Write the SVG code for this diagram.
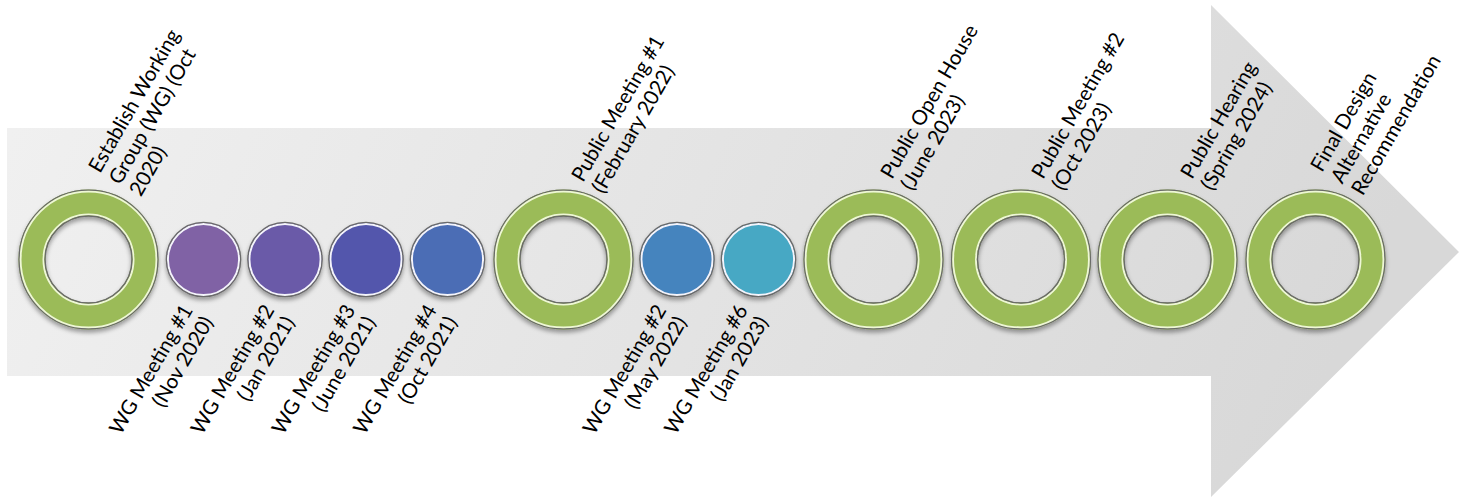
<svg xmlns="http://www.w3.org/2000/svg" width="1463" height="498" viewBox="0 0 1463 498">
<style>
.lbl{font-family:Lato,"Liberation Sans",sans-serif;font-size:20.5px;fill:#000}
.end{text-anchor:end}
.band{fill:none;stroke:#9BBB59;stroke-width:27}
.edge{fill:none;stroke:#6a6a6a;stroke-width:1.4}
.hi{fill:none;stroke:#eef7d6;stroke-width:1.8}
.dot-edge{fill:none;stroke:#6a6a6a;stroke-width:1.3}
.dot-hi{fill:none;stroke:#f4f4fb;stroke-width:2}
</style>
<defs>
<linearGradient id="bg" x1="0" y1="0" x2="1" y2="0.15">
<stop offset="0" stop-color="#f1f1f1"/>
<stop offset="1" stop-color="#d8d8d8"/>
</linearGradient>
<filter id="sh" x="-20%" y="-20%" width="140%" height="150%">
<feDropShadow dx="0" dy="3" stdDeviation="2.2" flood-color="#000" flood-opacity="0.35"/>
</filter>
<g id="ring">
<circle r="56.5" class="band"/>
<circle r="69.4" class="edge"/>
<circle r="67.9" class="hi"/>
<circle r="45.1" class="hi"/>
<circle r="43.5" class="edge"/>
</g>
<g id="dotrim">
<circle r="35.6" class="dot-hi"/>
<circle r="37.2" class="dot-edge"/>
</g>
</defs>

<g id="arrow">
<polygon points="7,128 1211,128 1211,5 1459,252 1211,497 1211,376 7,376" fill="url(#bg)"/>
</g>

<g id="connectors"></g>

<g id="n-establish">
<use href="#ring" x="88.5" y="259.5" filter="url(#sh)"/>
<text class="lbl" transform="translate(100,174) rotate(-60)"><tspan x="0" y="0">Establish Working</tspan><tspan x="0" dy="23.5">Group (WG) (Oct</tspan><tspan x="0" dy="23.5">2020)</tspan></text>
</g>

<g id="n-wg1">
<g filter="url(#sh)"><circle cx="203.5" cy="259.5" r="37" fill="#8062A5"/><use href="#dotrim" x="203.5" y="259.5"/></g>
<text class="lbl end" transform="translate(193.5,310) rotate(-60)"><tspan x="0" y="0">WG Meeting #1</tspan><tspan x="0" dy="23.5">(Nov 2020)</tspan></text>
</g>

<g id="n-wg2">
<g filter="url(#sh)"><circle cx="285" cy="259.5" r="37" fill="#6A5AA8"/><use href="#dotrim" x="285" y="259.5"/></g>
<text class="lbl end" transform="translate(275,310) rotate(-60)"><tspan x="0" y="0">WG Meeting #2</tspan><tspan x="0" dy="23.5">(Jan 2021)</tspan></text>
</g>

<g id="n-wg3">
<g filter="url(#sh)"><circle cx="366" cy="259.5" r="37" fill="#5357AC"/><use href="#dotrim" x="366" y="259.5"/></g>
<text class="lbl end" transform="translate(356,310) rotate(-60)"><tspan x="0" y="0">WG Meeting #3</tspan><tspan x="0" dy="23.5">(June 2021)</tspan></text>
</g>

<g id="n-wg4">
<g filter="url(#sh)"><circle cx="447.5" cy="259.5" r="37" fill="#4B6DB5"/><use href="#dotrim" x="447.5" y="259.5"/></g>
<text class="lbl end" transform="translate(437.5,310) rotate(-60)"><tspan x="0" y="0">WG Meeting #4</tspan><tspan x="0" dy="23.5">(Oct 2021)</tspan></text>
</g>

<g id="n-pm1">
<use href="#ring" x="563.5" y="259.5" filter="url(#sh)"/>
<text class="lbl" transform="translate(583,183) rotate(-60)"><tspan x="0" y="0">Public Meeting #1</tspan><tspan x="0" dy="23.5">(February 2022)</tspan></text>
</g>

<g id="n-wg5">
<g filter="url(#sh)"><circle cx="677" cy="259.5" r="37" fill="#4584BE"/><use href="#dotrim" x="677" y="259.5"/></g>
<text class="lbl end" transform="translate(667,310) rotate(-60)"><tspan x="0" y="0">WG Meeting #2</tspan><tspan x="0" dy="23.5">(May 2022)</tspan></text>
</g>

<g id="n-wg6">
<g filter="url(#sh)"><circle cx="758.5" cy="259.5" r="37" fill="#47A8C4"/><use href="#dotrim" x="758.5" y="259.5"/></g>
<text class="lbl end" transform="translate(748.5,310) rotate(-60)"><tspan x="0" y="0">WG Meeting #6</tspan><tspan x="0" dy="23.5">(Jan 2023)</tspan></text>
</g>

<g id="n-openhouse">
<use href="#ring" x="873.5" y="259.5" filter="url(#sh)"/>
<text class="lbl" transform="translate(892,180) rotate(-60)"><tspan x="0" y="0">Public Open House</tspan><tspan x="0" dy="23.5">(June 2023)</tspan></text>
</g>

<g id="n-pm2">
<use href="#ring" x="1021" y="259.5" filter="url(#sh)"/>
<text class="lbl" transform="translate(1043,180) rotate(-60)"><tspan x="0" y="0">Public Meeting #2</tspan><tspan x="0" dy="23.5">(Oct 2023)</tspan></text>
</g>

<g id="n-hearing">
<use href="#ring" x="1167.5" y="259.5" filter="url(#sh)"/>
<text class="lbl" transform="translate(1192,180) rotate(-60)"><tspan x="0" y="0">Public Hearing</tspan><tspan x="0" dy="23.5">(Spring 2024)</tspan></text>
</g>

<g id="n-final">
<use href="#ring" x="1315.5" y="259.5" filter="url(#sh)"/>
<text class="lbl" transform="translate(1322,173) rotate(-60)"><tspan x="0" y="0">Final Design</tspan><tspan x="0" dy="23.5">Alternative</tspan><tspan x="0" dy="23.5">Recommendation</tspan></text>
</g>
</svg>
